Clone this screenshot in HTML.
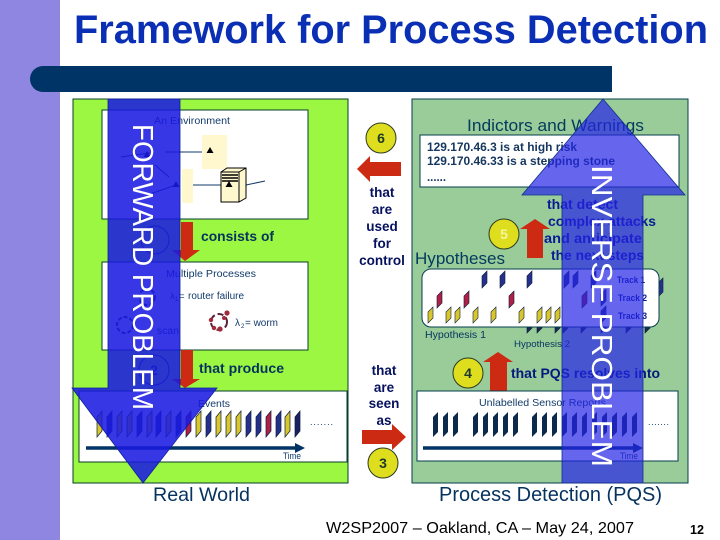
<!DOCTYPE html>
<html><head><meta charset="utf-8"><style>
html,body{margin:0;padding:0;background:#fff}
svg{display:block}
text{font-family:"Liberation Sans",sans-serif}
</style></head><body>
<svg width="720" height="540" viewBox="0 0 720 540" xmlns="http://www.w3.org/2000/svg">
<rect x="0" y="0" width="60" height="540" fill="#8f86e2"/>
<text x="74" y="43" font-size="40" font-weight="bold" fill="#0a2fb4" textLength="634" lengthAdjust="spacingAndGlyphs">Framework for Process Detection</text>
<path d="M612 66H43a13 13 0 0 0 0 26H612Z" fill="#003366"/>

<!-- Left panel -->
<rect x="73" y="99" width="275" height="384" fill="#9cf742" stroke="#063d2c" stroke-width="1"/>
<rect x="102" y="110" width="206" height="109" fill="#fff" stroke="#063d2c"/>
<text x="154" y="124" font-size="10" fill="#123a6a" textLength="76" lengthAdjust="spacingAndGlyphs">An Environment</text>
<rect x="202" y="135" width="25" height="34" fill="#fff8cf"/>
<rect x="182" y="169" width="11" height="34" fill="#fff8cf"/>
<path d="M165 152H202M193 185H221M246 185L265 181M121 157L150 153M155 165L169 177M150 194L176 185" stroke="#123a6a" fill="none"/>
<path d="M210 147l3.5 6h-7zM176 181l3.5 6h-7zM147 151l3.5 6h-7z" fill="#000"/>
<path d="M221 172l6-4h19v30l-7 4h-18z" fill="#fff8cf" stroke="#000"/>
<path d="M221 172h18v30M239 172l7-4" stroke="#000" fill="none"/>
<path d="M222 175h16M222 178h16M222 181h16" stroke="#000" stroke-width="1.4"/>
<path d="M229 181l3.5 6h-7z" fill="#000"/>
<circle cx="155" cy="240" r="14" fill="#9cf742" stroke="#123a6a"/>
<path d="M181 222h12v28h7l-15 11-13-11h9z" fill="#cc2a12"/>
<text x="201" y="241" font-size="13.5" font-weight="bold" fill="#05325e" textLength="73" lengthAdjust="spacingAndGlyphs">consists of</text>

<rect x="102" y="262" width="206" height="88" fill="#fff" stroke="#063d2c"/>
<text x="166" y="277" font-size="10" fill="#123a6a" textLength="90" lengthAdjust="spacingAndGlyphs">Multiple Processes</text>
<circle cx="147" cy="297" r="8" fill="none" stroke="#123a6a" stroke-width="2" stroke-dasharray="4 2"/>
<text x="170" y="299" font-size="9.5" fill="#123a6a">λ</text>
<text x="175" y="301" font-size="6" fill="#123a6a">1</text>
<text x="179" y="299" font-size="9.5" fill="#123a6a">=</text>
<text x="188" y="299" font-size="10" fill="#123a6a" textLength="56" lengthAdjust="spacingAndGlyphs">router failure</text>
<circle cx="125" cy="325" r="8" fill="none" stroke="#123a6a" stroke-width="2" stroke-dasharray="4 2"/>
<text x="157" y="334" font-size="10" fill="#123a6a" textLength="22" lengthAdjust="spacingAndGlyphs">scan</text>
<circle cx="219" cy="322" r="8" fill="none" stroke="#5a2038" stroke-width="2" stroke-dasharray="6 3"/>
<circle cx="227" cy="313" r="2.6" fill="#a02a3c"/><circle cx="220" cy="329" r="2.6" fill="#a02a3c"/><circle cx="211" cy="320" r="2.2" fill="#a02a3c"/><circle cx="224" cy="318" r="2" fill="#a02a3c"/><circle cx="214" cy="328" r="2.2" fill="#a02a3c"/>
<text x="235" y="326" font-size="10" fill="#123a6a">λ</text>
<text x="241" y="328" font-size="6" fill="#123a6a">2</text>
<text x="245" y="326" font-size="10" fill="#123a6a" textLength="33" lengthAdjust="spacingAndGlyphs">= worm</text>

<circle cx="154" cy="370" r="15" fill="#9cf742" stroke="#123a6a"/>
<text x="154" y="375" text-anchor="middle" font-size="14" font-weight="bold" fill="#123a6a">2</text>
<path d="M181 350h12v29h7l-15 9-13-9h9z" fill="#cc2a12"/>
<text x="199" y="373" font-size="14" font-weight="bold" fill="#05325e" textLength="85" lengthAdjust="spacingAndGlyphs">that produce</text>

<rect x="79" y="391" width="268" height="71" fill="#fff" stroke="#063d2c"/>
<text x="198" y="407" font-size="10" fill="#123a6a" textLength="32" lengthAdjust="spacingAndGlyphs">Events</text>
<g stroke="#0b1f3c" stroke-width=".7">
<path d="M97 437v-20l5-6v20z" fill="#d9c62a"/>
<path d="M107 437v-20l5-6v20z" fill="#26308c"/>
<path d="M117 437v-20l5-6v20z" fill="#d9c62a"/>
<path d="M127 437v-20l5-6v20z" fill="#d9c62a"/>
<path d="M137 437v-20l5-6v20z" fill="#26308c"/>
<path d="M147 437v-20l5-6v20z" fill="#d9c62a"/>
<path d="M156 437v-20l5-6v20z" fill="#26308c"/>
<path d="M166 437v-20l5-6v20z" fill="#d9c62a"/>
<path d="M176 437v-20l5-6v20z" fill="#26308c"/>
<path d="M186 437v-20l5-6v20z" fill="#b01f45"/>
<path d="M196 437v-20l5-6v20z" fill="#d9c62a"/>
<path d="M206 437v-20l5-6v20z" fill="#26308c"/>
<path d="M216 437v-20l5-6v20z" fill="#d9c62a"/>
<path d="M226 437v-20l5-6v20z" fill="#d9c62a"/>
<path d="M236 437v-20l5-6v20z" fill="#d9c62a"/>
<path d="M246 437v-20l5-6v20z" fill="#26308c"/>
<path d="M256 437v-20l5-6v20z" fill="#26308c"/>
<path d="M266 437v-20l5-6v20z" fill="#b01f45"/>
<path d="M276 437v-20l5-6v20z" fill="#26308c"/>
<path d="M285 437v-20l5-6v20z" fill="#d9c62a"/>
<path d="M295 437v-20l5-6v20z" fill="#1a2060"/>
</g>
<text x="310" y="425" font-size="9" fill="#123a6a" textLength="23" lengthAdjust="spacing">.......</text>
<path d="M86 446.2H295V443L305 448 295 453V449.8H86Z" fill="#003366"/>
<text x="283" y="459" font-size="9" fill="#123a6a" textLength="18" lengthAdjust="spacingAndGlyphs">Time</text>

<!-- Forward arrow -->
<path d="M108 99H180V388H217L143 483 72 388H108Z" fill="#1919e1" fill-opacity=".87" stroke="#10209a" stroke-width=".8"/>
<text transform="translate(133 124) rotate(90)" font-size="29" fill="#fff" textLength="286" lengthAdjust="spacingAndGlyphs">FORWARD PROBLEM</text>

<!-- Right panel -->
<rect x="412" y="99" width="276" height="384" fill="#99cc99" stroke="#063d4c"/>
<text x="467" y="131" font-size="17" fill="#033a5e" textLength="177" lengthAdjust="spacingAndGlyphs">Indictors and Warnings</text>
<rect x="420" y="135" width="259" height="52" fill="#fff" stroke="#063d4c"/>
<g font-size="12" font-weight="bold" fill="#15365e">
<text x="427" y="151" textLength="150" lengthAdjust="spacingAndGlyphs">129.170.46.3 is at high risk</text>
<text x="427" y="165" textLength="188" lengthAdjust="spacingAndGlyphs">129.170.46.33 is a stepping stone</text>
<text x="427" y="181" textLength="19" lengthAdjust="spacingAndGlyphs">......</text>
</g>
<text x="415" y="264" font-size="17" fill="#033a5e" textLength="90" lengthAdjust="spacingAndGlyphs">Hypotheses</text>
<circle cx="504" cy="234" r="15" fill="#dede1e" stroke="#2c3a20"/>
<text x="504" y="239" text-anchor="middle" font-size="14" font-weight="bold" fill="#f6f6a0">5</text>
<path d="M535 219l15 10h-7v29h-16v-29h-7z" fill="#cc2a12"/>
<g font-size="14" font-weight="bold" fill="#0a1a96">
<text x="547" y="209" textLength="71" lengthAdjust="spacingAndGlyphs">that detect</text>
<text x="548" y="226" textLength="108" lengthAdjust="spacingAndGlyphs">complex attacks</text>
<text x="544" y="243" textLength="98" lengthAdjust="spacingAndGlyphs">and anticipate</text>
<text x="551" y="260" textLength="93" lengthAdjust="spacingAndGlyphs">the next steps</text>
</g>

<!-- Hypothesis bars behind box -->
<g stroke="#0b1f3c" stroke-width=".6" fill="#1a2a50">
<path d="M527 333v-18l5-5v18z"/><path d="M537 333v-18l5-5v18z"/><path d="M555 333v-18l5-5v18z"/><path d="M563 333v-18l5-5v18z"/><path d="M581 333v-18l5-5v18z"/><path d="M601 333v-18l5-5v18z"/><path d="M626 333v-18l5-5v18z"/><path d="M645 333v-18l5-5v18z"/>
<path d="M658 297v-14l5-5v14z" fill="#26308c"/>
</g>
<rect x="422" y="269" width="237" height="58" rx="9" fill="#fff" stroke="#063d4c"/>
<g stroke="#0b1f3c" stroke-width=".6">
<g fill="#26308c">
<path d="M482 288v-12l5-5v12z"/><path d="M500 288v-12l5-5v12z"/><path d="M527 288v-12l5-5v12z"/><path d="M564 288v-12l5-5v12z"/><path d="M573 288v-12l5-5v12z"/><path d="M591 288v-12l5-5v12z"/>
<path d="M601 306v-12l5-5v12z"/><path d="M601 323v-12l5-5v12z"/>
</g>
<g fill="#b01f45">
<path d="M437 308v-12l5-5v12z"/><path d="M464 308v-12l5-5v12z"/><path d="M509 308v-12l5-5v12z"/><path d="M582 308v-12l5-5v12z"/>
</g>
<g fill="#d9c62a">
<path d="M428 323v-11l5-5v11z"/><path d="M446 323v-11l5-5v11z"/><path d="M455 323v-11l5-5v11z"/><path d="M473 323v-11l5-5v11z"/><path d="M491 323v-11l5-5v11z"/><path d="M519 323v-11l5-5v11z"/><path d="M537 323v-11l5-5v11z"/><path d="M546 323v-11l5-5v11z"/><path d="M555 323v-11l5-5v11z"/>
</g>
</g>
<g font-size="9" font-weight="bold" fill="#0a1a96">
<text x="617" y="283" textLength="28" lengthAdjust="spacingAndGlyphs">Track 1</text>
<text x="618" y="301" textLength="29" lengthAdjust="spacingAndGlyphs">Track 2</text>
<text x="618" y="319" textLength="29" lengthAdjust="spacingAndGlyphs">Track 3</text>
</g>
<text x="425" y="338" font-size="10.5" fill="#05325e" textLength="61" lengthAdjust="spacingAndGlyphs">Hypothesis 1</text>
<text x="514" y="347" font-size="9.5" fill="#05325e" textLength="56" lengthAdjust="spacingAndGlyphs">Hypothesis 2</text>

<circle cx="468" cy="373" r="15" fill="#dede1e" stroke="#2c3a20"/>
<text x="468" y="378" text-anchor="middle" font-size="14" font-weight="bold" fill="#1e3a2a">4</text>
<path d="M498 352l15 10h-6v29h-17v-29h-7z" fill="#cc2a12"/>
<text x="511" y="378" font-size="14" font-weight="bold" fill="#05187e" textLength="149" lengthAdjust="spacingAndGlyphs">that PQS resolves into</text>

<rect x="417" y="391" width="261" height="70" fill="#fff" stroke="#063d4c"/>
<text x="479" y="406" font-size="10.5" fill="#123a6a" textLength="127" lengthAdjust="spacingAndGlyphs">Unlabelled Sensor Reports</text>
<g fill="#0c2a4c">
<path d="M433 437v-20l5-5v20z"/><path d="M443 437v-20l5-5v20z"/><path d="M453 437v-20l5-5v20z"/><path d="M473 437v-20l5-5v20z"/><path d="M483 437v-20l5-5v20z"/><path d="M493 437v-20l5-5v20z"/><path d="M503 437v-20l5-5v20z"/><path d="M513 437v-20l5-5v20z"/><path d="M532 437v-20l5-5v20z"/><path d="M542 437v-20l5-5v20z"/><path d="M552 437v-20l5-5v20z"/><path d="M562 437v-20l5-5v20z"/><path d="M572 437v-20l5-5v20z"/><path d="M582 437v-20l5-5v20z"/><path d="M592 437v-20l5-5v20z"/><path d="M602 437v-20l5-5v20z"/><path d="M612 437v-20l5-5v20z"/><path d="M622 437v-20l5-5v20z"/><path d="M632 437v-20l5-5v20z"/>
</g>
<text x="648" y="425" font-size="9" fill="#123a6a" textLength="21" lengthAdjust="spacing">.......</text>
<path d="M423 446.2H633V443L643 448 633 453V449.8H423Z" fill="#003366"/>
<text x="620" y="459" font-size="9" fill="#123a6a" textLength="18" lengthAdjust="spacingAndGlyphs">Time</text>

<!-- Inverse arrow -->
<path d="M603 99L685 195H643V483H562V195H522Z" fill="#2424e7" fill-opacity=".7" stroke="#10308a" stroke-width=".8"/>
<text transform="translate(592 165) rotate(90)" font-size="29" fill="#fff" textLength="302" lengthAdjust="spacingAndGlyphs">INVERSE PROBLEM</text>

<!-- Center -->
<circle cx="381" cy="138" r="15" fill="#dede1e" stroke="#2c3a20"/>
<text x="381" y="143" text-anchor="middle" font-size="14" font-weight="bold" fill="#1e3a2a">6</text>
<path d="M357 169l13-13v6h31v14h-31v6z" fill="#cc2a12"/>
<g font-size="13.5" font-weight="bold" fill="#05105e" text-anchor="middle">
<text x="382" y="197">that</text><text x="382" y="214">are</text><text x="382" y="231">used</text><text x="382" y="248">for</text><text x="382" y="265">control</text>
<text x="384" y="375">that</text><text x="384" y="392">are</text><text x="384" y="408">seen</text><text x="384" y="425">as</text>
</g>
<path d="M362 430h30v-6l14 13-14 13v-6h-30z" fill="#cc2a12"/>
<circle cx="383" cy="463" r="15" fill="#dede1e" stroke="#2c3a20"/>
<text x="383" y="468" text-anchor="middle" font-size="14" font-weight="bold" fill="#1e3a2a">3</text>

<!-- Footer -->
<text x="153" y="501" font-size="19.5" fill="#05325e" textLength="97" lengthAdjust="spacingAndGlyphs">Real World</text>
<text x="439" y="501" font-size="20" fill="#05325e" textLength="223" lengthAdjust="spacingAndGlyphs">Process Detection (PQS)</text>
<text x="326" y="533" font-size="16" fill="#000" textLength="308" lengthAdjust="spacingAndGlyphs">W2SP2007 – Oakland, CA – May 24, 2007</text>
<text x="690" y="534" font-size="12.5" font-weight="bold" fill="#000" textLength="14" lengthAdjust="spacingAndGlyphs">12</text>
</svg>
</body></html>
